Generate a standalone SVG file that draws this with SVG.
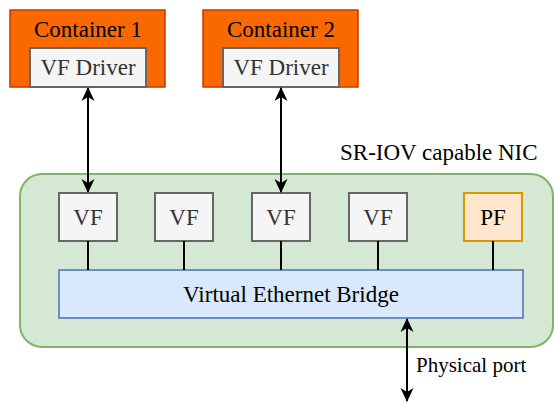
<svg xmlns="http://www.w3.org/2000/svg" width="554" height="403" viewBox="0 0 554 403">
  <style>
    .ctr { fill: #fa6800; stroke: #c73500; stroke-width: 1.5; }
    .gray { fill: #f5f5f5; stroke: #666666; stroke-width: 2; }
    .pf { fill: #ffe6cc; stroke: #d79b00; stroke-width: 2; }
    .bridge { fill: #dae8fc; stroke: #6c8ebf; stroke-width: 2; }
    .nic { fill: #d5e8d4; stroke: #82b366; stroke-width: 2; }
    .dark { fill: #333333; }
    .link { stroke: #000; stroke-width: 2; fill: none; }
  </style>
  <defs>
    <marker id="arr" viewBox="0 0 14 14" refX="13" refY="7" markerWidth="14" markerHeight="14" orient="auto-start-reverse" markerUnits="userSpaceOnUse">
      <path d="M0,0.5 L14,7 L0,13.5 L4,7 z" fill="#000"/>
    </marker>
  </defs>

  <g font-family="Liberation Serif, Times New Roman, DejaVu Serif, serif" font-size="23">
  <g id="nic">
    <rect class="nic" x="20" y="174" width="533" height="173" rx="22"/>
    <text x="340" y="160">SR-IOV capable NIC</text>
  </g>

  <g id="container1">
    <rect class="ctr" x="10" y="10" width="155" height="77"/>
    <text x="88" y="37" text-anchor="middle">Container 1</text>
  </g>
  <g id="vfdriver1">
    <rect class="gray" x="30" y="48" width="116" height="39"/>
    <text class="dark" x="88" y="75" text-anchor="middle">VF Driver</text>
  </g>

  <g id="container2">
    <rect class="ctr" x="203" y="10" width="155" height="77"/>
    <text x="281" y="37" text-anchor="middle">Container 2</text>
  </g>
  <g id="vfdriver2">
    <rect class="gray" x="223" y="48" width="116" height="39"/>
    <text class="dark" x="281" y="75" text-anchor="middle">VF Driver</text>
  </g>

  <g id="vf1">
    <rect class="gray" x="59" y="193" width="58" height="48"/>
    <text class="dark" x="88" y="225" text-anchor="middle">VF</text>
  </g>
  <g id="vf2">
    <rect class="gray" x="155" y="193" width="58" height="48"/>
    <text class="dark" x="184" y="225" text-anchor="middle">VF</text>
  </g>
  <g id="vf3">
    <rect class="gray" x="252" y="193" width="58" height="48"/>
    <text class="dark" x="281" y="225" text-anchor="middle">VF</text>
  </g>
  <g id="vf4">
    <rect class="gray" x="349" y="193" width="58" height="48"/>
    <text class="dark" x="378" y="225" text-anchor="middle">VF</text>
  </g>
  <g id="pf">
    <rect class="pf" x="464" y="193" width="58" height="48"/>
    <text x="493" y="225" text-anchor="middle">PF</text>
  </g>

  <g id="bridge">
    <rect class="bridge" x="59" y="270" width="464" height="48"/>
    <text x="291" y="302" text-anchor="middle">Virtual Ethernet Bridge</text>
  </g>

  <g id="connectors">
    <line class="link" x1="88" y1="88" x2="88" y2="192" marker-start="url(#arr)" marker-end="url(#arr)"/>
    <line class="link" x1="281" y1="88" x2="281" y2="192" marker-start="url(#arr)" marker-end="url(#arr)"/>
    <line class="link" x1="88" y1="241" x2="88" y2="270"/>
    <line class="link" x1="184" y1="241" x2="184" y2="270"/>
    <line class="link" x1="281" y1="241" x2="281" y2="270"/>
    <line class="link" x1="378" y1="241" x2="378" y2="270"/>
    <line class="link" x1="493" y1="241" x2="493" y2="270"/>
    <line class="link" x1="407" y1="319" x2="407" y2="401" marker-start="url(#arr)" marker-end="url(#arr)"/>
    <text x="416" y="372" font-size="21">Physical port</text>
  </g>
  </g>
</svg>
